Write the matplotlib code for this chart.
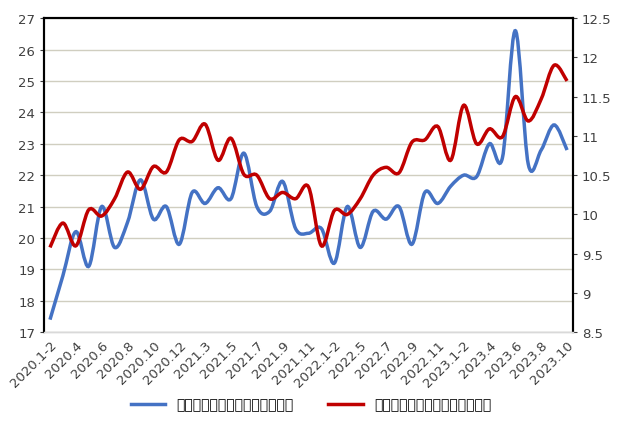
import numpy as np
import matplotlib
matplotlib.use('Agg')
import matplotlib.pyplot as plt
from matplotlib.path import Path
from matplotlib.patches import PathPatch
from matplotlib import font_manager

cjk = [f.name for f in font_manager.fontManager.ttflist if 'CJK' in f.name]
plt.rcParams['font.family'] = 'sans-serif'
plt.rcParams['font.sans-serif'] = ['DejaVu Sans', 'Noto Sans CJK SC', 'Noto Sans CJK JP'] + cjk

months = ['2020.1-2', '2020.3', '2020.4', '2020.5', '2020.6', '2020.7', '2020.8', '2020.9', '2020.10', '2020.11', '2020.12',
          '2021.1-2', '2021.3', '2021.4', '2021.5', '2021.6', '2021.7', '2021.8', '2021.9', '2021.10', '2021.11', '2021.12',
          '2022.1-2', '2022.4', '2022.5', '2022.6', '2022.7', '2022.8', '2022.9', '2022.10', '2022.11', '2022.12',
          '2023.1-2', '2023.3', '2023.4', '2023.5', '2023.6', '2023.7', '2023.8', '2023.9', '2023.10']
alumina = [17.4, 18.8, 20.2, 19.1, 21.0, 19.7, 20.5, 21.85, 20.6, 21.0, 19.8,
           21.45, 21.1, 21.6, 21.25, 22.7, 21.0, 20.85, 21.8, 20.3, 20.15, 20.3,
           19.2, 21.0, 19.7, 20.85, 20.6, 21.0, 19.8, 21.45, 21.1, 21.65,
           22.0, 21.95, 23.0, 22.55, 26.6, 22.35, 22.8, 23.6, 22.8]
aluminium = [9.58, 9.89, 9.6, 10.06, 9.98, 10.2, 10.54, 10.32, 10.61, 10.54, 10.95,
             10.93, 11.15, 10.69, 10.97, 10.51, 10.5, 10.2, 10.28, 10.2, 10.35, 9.6,
             10.05, 10.0, 10.2, 10.5, 10.6, 10.53, 10.92, 10.95, 11.12, 10.69,
             11.39, 10.9, 11.09, 10.99, 11.5, 11.19, 11.47, 11.9, 11.7]
label_alumina = '氧化铝日均产量（万吨，左轴）'
label_aluminium = '电解铝日均产量（万吨，右轴）'


def smooth_path(x, y):
    # Catmull-Rom style bezier segments, like Excel's smoothed line
    x = np.asarray(x, float)
    y = np.asarray(y, float)
    verts = [(x[0], y[0])]
    codes = [Path.MOVETO]
    n = len(x)
    for i in range(n - 1):
        x0, y0 = (x[i - 1], y[i - 1]) if i > 0 else (x[i], y[i])
        x3, y3 = (x[i + 2], y[i + 2]) if i + 2 < n else (x[i + 1], y[i + 1])
        c1 = (x[i] + (x[i + 1] - x0) / 6, y[i] + (y[i + 1] - y0) / 6)
        c2 = (x[i + 1] - (x3 - x[i]) / 6, y[i + 1] - (y3 - y[i]) / 6)
        verts += [c1, c2, (x[i + 1], y[i + 1])]
        codes += [Path.CURVE4] * 3
    return Path(verts, codes)


fig = plt.figure(figsize=(6.22, 4.35), dpi=100)
ax = fig.add_axes([0.071, 0.234, 0.85, 0.722])
ax2 = ax.twinx()
xs = np.arange(len(months))

blue = '#4472C4'
red = '#C00000'
ax.add_patch(PathPatch(smooth_path(xs, alumina), fill=False, edgecolor=blue, lw=2.5))
ax2.add_patch(PathPatch(smooth_path(xs, aluminium), fill=False, edgecolor=red, lw=2.5))
ax.plot([], [], color=blue, lw=2.5, label=label_alumina)
ax.plot([], [], color=red, lw=2.5, label=label_aluminium)

ax.set_xlim(-0.45, len(months) - 0.55)
ax.set_ylim(17, 27)
ax.set_yticks(range(17, 28))
ax2.set_ylim(8.5, 12.5)
ax2.set_yticks(np.arange(8.5, 12.51, 0.5))
ax2.set_yticklabels([f'{v:g}' for v in np.arange(8.5, 12.51, 0.5)])
ax.set_xticks(xs[::2])
ax.set_xticklabels(months[::2], rotation=45, ha='right', rotation_mode='anchor')
ax.grid(axis='y', color='#D0CEC0', lw=1)
ax.set_axisbelow(True)

for a in (ax, ax2):
    a.tick_params(labelsize=9.5, colors='#404040', length=3)
    for s in a.spines.values():
        s.set_color('black')
        s.set_linewidth(1.5)
    a.spines['bottom'].set_color('#D9D9D9')
    a.spines['bottom'].set_linewidth(1)
ax.tick_params(axis='x', length=0, pad=4)

fig.legend(loc='center', bbox_to_anchor=(0.5, 0.068), ncol=2, frameon=False, fontsize=10,
           handlelength=2.5, columnspacing=2.5)
fig.savefig('out.png', dpi=100)
